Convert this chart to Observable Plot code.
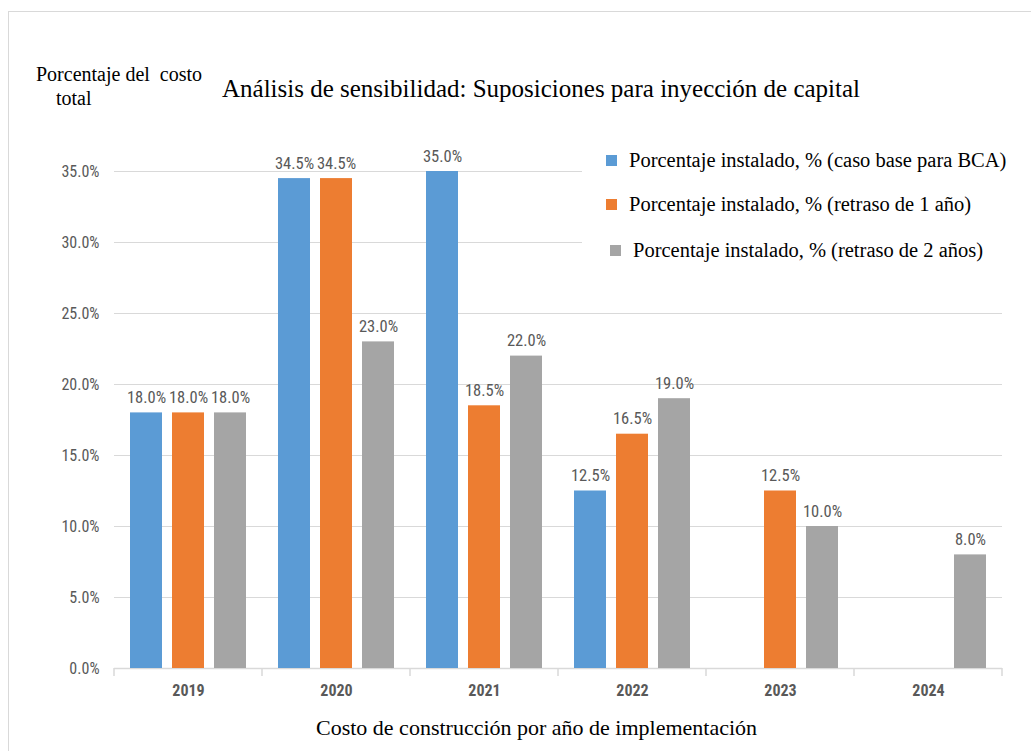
<!DOCTYPE html>
<html><head><meta charset="utf-8">
<script src="https://cdn.jsdelivr.net/npm/d3@7"></script>
<script src="https://cdn.jsdelivr.net/npm/@observablehq/plot@0.6"></script>
<style>
body{margin:0;background:#fff;}
#wrap{position:relative;width:1031px;height:751px;overflow:hidden;background:#fff;}
#border{position:absolute;left:8px;top:11px;width:1060px;height:780px;border:1px solid #d9d9d9;}
#chart{position:absolute;left:0;top:0;}
.serif{font-family:"Liberation Serif","DejaVu Serif",serif;color:#000;position:absolute;white-space:nowrap;}
#title{left:222px;top:74px;font-size:25px;line-height:30px;}
#ytitle{left:36px;top:62px;font-size:20px;line-height:24px;}
#xtitle{left:316px;top:714px;font-size:22px;line-height:28px;}
#legend{position:absolute;left:582px;top:140px;width:440px;height:128px;background:#fff;}
.li{position:absolute;left:24px;font-family:"Liberation Serif","DejaVu Serif",serif;font-size:20.5px;line-height:24px;white-space:nowrap;}
.sw{display:inline-block;width:11px;height:11px;margin-right:12px;vertical-align:1px;}
</style></head>
<body>
<div id="wrap">
<div id="border"></div>
<div id="chart"></div>
<div id="ytitle" class="serif">Porcentaje del&nbsp; costo<br>&nbsp;&nbsp;&nbsp;&nbsp;total</div>
<div id="title" class="serif">Análisis de sensibilidad: Suposiciones para inyección de capital</div>
<div id="legend"></div>
<div id="xtitle" class="serif">Costo de construcción por año de implementación</div>
</div>
<script>
const years = ["2019", "2020", "2021", "2022", "2023", "2024"];
const seriesNames = [
  "Porcentaje instalado, % (caso base para BCA)",
  "Porcentaje instalado, % (retraso de 1 año)",
  "Porcentaje instalado, % (retraso de 2 años)"
];
const baseCase = [18.0, 34.5, 35.0, 12.5, null, null];
const delay1Year = [18.0, 34.5, 18.5, 16.5, 12.5, null];
const delay2Years = [18.0, 23.0, 22.0, 19.0, 10.0, 8.0];
const yTicks = [0, 5, 10, 15, 20, 25, 30, 35];
const colors = ["#5B9BD5", "#ED7D31", "#A5A5A5"];

const seriesValues = [baseCase, delay1Year, delay2Years];
const rows = [];
years.forEach((yr, i) => {
  seriesNames.forEach((s, j) => {
    const v = seriesValues[j][i];
    if (v != null) rows.push({year: yr, series: s, value: v});
  });
});
const pct = d => d.toFixed(1) + "%";
const sansFont = "'Liberation Sans Narrow', 'Roboto Condensed', Roboto, sans-serif";

const chart = Plot.plot({
  width: 1031,
  height: 751,
  marginLeft: 112,
  marginRight: 27,
  marginTop: 171,
  marginBottom: 83,
  style: {background: "transparent", fontFamily: sansFont},
  fx: {domain: years, padding: 0, label: null},
  x: {domain: seriesNames, paddingInner: 0.23, paddingOuter: 0.345, axis: null},
  y: {domain: [0, 35], label: null},
  color: {domain: seriesNames, range: colors},
  marks: [
    Plot.gridY(yTicks, {stroke: "#d9d9d9", strokeOpacity: 1, strokeWidth: 1}),
    Plot.axisY(yTicks, {tickSize: 0, tickPadding: 15, tickFormat: pct, fill: "#595959", fontSize: 16, label: null}),
    Plot.ruleY([0], {stroke: "#d9d9d9", strokeWidth: 1.5}),
    Plot.barY(rows, {fx: "year", x: "series", y: "value", fill: "series"}),
    Plot.text(rows, {fx: "year", x: "series", y: "value", text: d => pct(d.value), dy: -10, lineAnchor: "bottom", fill: "#595959", fontSize: 16.5}),
    Plot.axisFx({anchor: "bottom", tickSize: 0, tickPadding: 16, fontWeight: "bold", fill: "#595959", fontSize: 16, label: null})
  ]
});
document.getElementById("chart").appendChild(chart);

// category boundary ticks on the baseline, placed with the fx scale
const fx = chart.scale("fx");
const yS = chart.scale("y");
const y0 = yS.apply(0);
const bounds = years.map(y => fx.apply(y));
bounds.push(fx.apply(years[years.length - 1]) + fx.step);
d3.select(chart).append("g").selectAll("line").data(bounds).join("line")
  .attr("x1", d => d).attr("x2", d => d)
  .attr("y1", y0).attr("y2", y0 + 8)
  .attr("stroke", "#d9d9d9").attr("stroke-width", 1.5);

// legend
const legend = d3.select("#legend");
const legendTops = [8, 52, 98];
const legendLefts = [24, 24, 28];
seriesNames.forEach((s, i) => {
  const item = legend.append("div").attr("class", "li")
    .style("top", legendTops[i] + "px").style("left", legendLefts[i] + "px");
  item.append("span").attr("class", "sw").style("background", colors[i]);
  item.append("span").text(s);
});
</script>
</body></html>
